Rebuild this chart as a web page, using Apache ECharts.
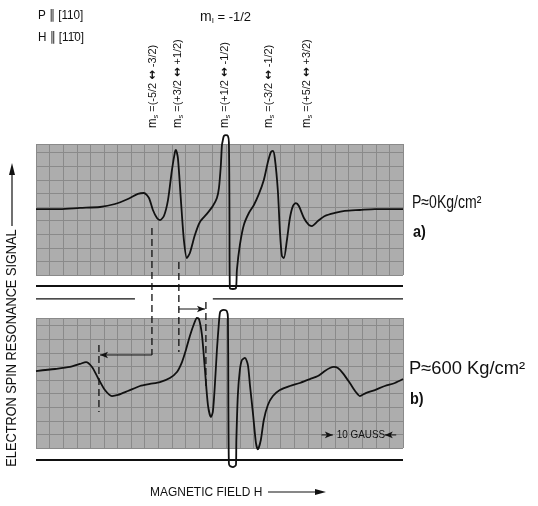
<!DOCTYPE html>
<html><head><meta charset="utf-8">
<script src="https://cdn.jsdelivr.net/npm/echarts@6/dist/echarts.min.js"></script>
<style>html,body{margin:0;padding:0;background:#fff}#c{width:538px;height:506px}</style>
</head><body><div id="c"></div>
<script>
// Units: x = chart-paper divisions along the field axis, y = paper divisions above each box bottom
const traceA = [[0,4.85],[1.76,4.85],[3.24,4.93],[4.71,5.0],[5.81,5.22],[6.76,5.59],[7.5,5.96],[7.94,6.03],[8.31,5.66],[8.6,4.78],[8.9,4.19],[9.12,4.04],[9.41,4.34],[9.71,5.51],[10.0,7.72],[10.22,9.04],[10.29,9.19],[10.44,8.6],[10.66,5.51],[10.88,2.57],[11.1,1.25],[11.32,1.62],[11.69,2.94],[12.06,3.9],[12.57,4.49],[13.01,5.07],[13.31,5.66],[13.46,6.4],[13.6,8.09],[13.68,9.56],[13.75,9.93],[13.82,10.22],[13.97,10.29],[14.12,10.22],[14.19,9.78],[14.23,5.51],[14.26,-0.96],[14.49,-1.03],[14.71,-0.96],[14.78,0.37],[15.0,2.21],[15.29,3.68],[15.66,4.56],[16.03,5.15],[16.4,5.96],[16.76,6.99],[17.06,8.31],[17.28,9.04],[17.43,9.12],[17.57,8.6],[17.79,6.25],[17.94,3.31],[18.09,1.4],[18.24,1.25],[18.46,2.57],[18.68,4.19],[18.9,5.07],[19.12,5.29],[19.34,5.07],[19.71,4.19],[20.07,3.68],[20.29,3.6],[20.74,3.97],[21.25,4.34],[21.99,4.56],[22.72,4.71],[23.82,4.78],[24.93,4.85],[27,4.85]];
const traceB = [[0,5.66],[1.4,5.81],[2.5,5.96],[3.24,6.18],[3.68,6.32],[4.12,5.96],[4.56,5.15],[5.07,4.26],[5.59,3.82],[6.03,3.9],[6.76,4.19],[7.65,4.56],[8.38,4.71],[9.12,4.85],[9.85,5.15],[10.37,5.59],[10.74,6.32],[11.03,7.21],[11.32,8.24],[11.62,9.12],[11.84,9.56],[11.99,9.49],[12.21,8.31],[12.43,5.74],[12.65,3.16],[12.87,2.28],[13.01,2.65],[13.16,4.63],[13.31,7.21],[13.46,9.26],[13.53,9.93],[13.6,10.07],[13.82,10.15],[14.04,10.07],[14.12,9.56],[14.15,3.53],[14.19,-1.1],[14.26,-1.32],[14.49,-1.4],[14.71,-1.25],[14.74,0.59],[14.85,3.9],[15.0,5.74],[15.15,6.47],[15.37,6.62],[15.59,6.1],[15.74,4.63],[15.96,2.57],[16.18,0.37],[16.32,-0.1],[16.54,0.59],[16.76,2.06],[17.06,3.16],[17.43,3.82],[17.94,4.26],[18.68,4.56],[19.41,4.78],[20.15,5.07],[20.74,5.29],[21.25,5.66],[21.62,5.88],[21.91,5.96],[22.21,5.88],[22.57,5.51],[23.09,4.78],[23.53,4.12],[23.82,3.82],[24.26,4.04],[24.93,4.26],[25.66,4.56],[26.4,4.78],[27,5.07]];
// pen-limit rules (panel a coords for the first, panel b coords for the rest)
const limitRuleA = [[0,-0.81],[27,-0.81]];
const upperRuleB1 = [[0,10.96],[7.28,10.96]];
const upperRuleB2 = [[13.01,10.96],[27,10.96]];
const limitRuleB = [[0,-0.88],[27,-0.88]];
// dashed guide lines (panel b coords)
const guides = [
  [[8.53,16.18],[8.53,6.84]],
  [[10.51,13.68],[10.51,7.06]],
  [[4.63,7.57],[4.63,2.65]],
  [[12.5,10.74],[12.5,4.26]]
];
// shift arrows (panel b coords): from -> to
const shifts = [
  [[8.53,6.84],[4.71,6.84]],
  [[10.51,10.22],[12.43,10.22]]
];
const gaussMarks = [
  [[21.0,0.96],[21.84,0.96]],
  [[26.5,0.96],[25.66,0.96]]
];
const msFrom = ['-5/2','+3/2','+1/2','-3/2','+5/2'];
const msTo = ['-3/2','+1/2','-1/2','-1/2','+3/2'];
const msLabelX = [153,178,225,269,307];

const FONT = "'Liberation Sans','DejaVu Sans',sans-serif";
const chart = echarts.init(document.getElementById('c'), null, {renderer:'canvas'});

function axisX(i){return {gridIndex:i,type:'value',min:0,max:27,interval:1,axisLine:{show:false},axisTick:{show:false},axisLabel:{show:false},splitLine:{show:true,lineStyle:{color:'#8a8a8a',width:1}}};}
function axisY(i,max){return {gridIndex:i,type:'value',min:0,max:max,interval:1,axisLine:{show:false},axisTick:{show:false},axisLabel:{show:false},splitLine:{show:true,lineStyle:{color:'#8a8a8a',width:1}}};}
function seg(data,idx,style,extra){return Object.assign({type:'line',xAxisIndex:idx,yAxisIndex:idx,data:data,symbol:'none',clip:false,silent:true,animation:false,lineStyle:style,z:3},extra||{});}

const series = [
  seg(traceA,0,{color:'#111',width:1.8},{smooth:0.25}),
  seg(traceB,1,{color:'#111',width:1.8},{smooth:0.25}),
  seg(limitRuleA,0,{color:'#111',width:2}),
  seg(upperRuleB1,1,{color:'#111',width:1.2}),
  seg(upperRuleB2,1,{color:'#111',width:1.2}),
  seg(limitRuleB,1,{color:'#111',width:2})
];
guides.forEach(g=>series.push(seg(g,1,{color:'#111',width:1.3,type:[7,4]})));
shifts.concat(gaussMarks).forEach(s=>{
  const right = s[1][0] > s[0][0];
  series.push(Object.assign(seg([{value:s[0],symbol:'none'},{value:s[1],symbol:'arrow',symbolSize:[5,8],symbolRotate:right?-90:90}],1,{color:'#111',width:1}),{showSymbol:true,itemStyle:{color:'#111'}}));
});

function txt(x,y,text,font,opts){return Object.assign({type:'text',x:x,y:y,style:{text:text,font:font,fill:'#111',textVerticalAlign:'middle',verticalAlign:'middle'}},opts||{});}
const graphic = [
  txt(38,15,'P ∥ [110]','13px '+FONT,{scaleX:0.9}),
  txt(38,37,'H ∥ [11̄0]','13px '+FONT,{scaleX:0.9}),
  {type:'text',x:200,y:17,style:{text:'{m|m}{i|I}{t| = -1/2}',fill:'#111',textVerticalAlign:'middle',verticalAlign:'middle',rich:{m:{font:'14px '+FONT},i:{font:'8px '+FONT,padding:[7,0,0,0]},t:{font:'13px '+FONT}}}},
  {type:'text',x:12,y:348,rotation:Math.PI/2,scaleX:0.85,style:{text:'ELECTRON SPIN RESONANCE SIGNAL',font:'15px '+FONT,fill:'#111',textAlign:'center',align:'center',textVerticalAlign:'middle',verticalAlign:'middle'}},
  {type:'line',shape:{x1:12,y1:226,x2:12,y2:172},style:{stroke:'#111',lineWidth:1.2}},
  {type:'polygon',shape:{points:[[12,163],[9,175],[15,175]]},style:{fill:'#111'}},
  txt(150,492,'MAGNETIC FIELD H','13px '+FONT,{scaleX:0.92}),
  {type:'line',shape:{x1:268,y1:492,x2:318,y2:492},style:{stroke:'#111',lineWidth:1.2}},
  {type:'polygon',shape:{points:[[326,492],[315,489],[315,495]]},style:{fill:'#111'}},
  txt(412,203,'P≈0Kg/cm²','18px '+FONT,{scaleX:0.78}),
  txt(413,232,'a)','bold 17px '+FONT,{scaleX:0.85}),
  txt(409,369,'P≈600 Kg/cm²','18px '+FONT,{scaleX:1.02}),
  txt(410,399,'b)','bold 17px '+FONT,{scaleX:0.85}),
  {type:'text',x:361,y:435,z:10,scaleX:0.9,style:{text:'10 GAUSS',font:'11px '+FONT,fill:'#111',textAlign:'center',align:'center',textVerticalAlign:'middle',verticalAlign:'middle'}}
];
msFrom.forEach((f,i)=>{
  graphic.push({type:'text',x:msLabelX[i],y:128,rotation:Math.PI/2,scaleX:0.95,style:{text:'{m|m}{s|s}{t| =('+f+' }{a|↔}{t| '+msTo[i]+')}',fill:'#111',textAlign:'left',align:'left',textVerticalAlign:'middle',verticalAlign:'middle',rich:{m:{font:'12px '+FONT},s:{font:'8px '+FONT,padding:[6,0,0,0]},t:{font:'11.5px '+FONT},a:{font:'bold 12px "DejaVu Sans",sans-serif'}}}});
});

chart.setOption({
  animation:false,
  backgroundColor:'#fff',
  grid:[
    {left:36,top:144,width:367,height:131,show:true,backgroundColor:'#adadad',borderWidth:0},
    {left:36,top:318,width:367,height:130,show:true,backgroundColor:'#adadad',borderWidth:0}
  ],
  xAxis:[axisX(0),axisX(1)],
  yAxis:[axisY(0,131/13.6),axisY(1,130/13.6)],
  series:series,
  graphic:graphic
});
</script></body></html>
